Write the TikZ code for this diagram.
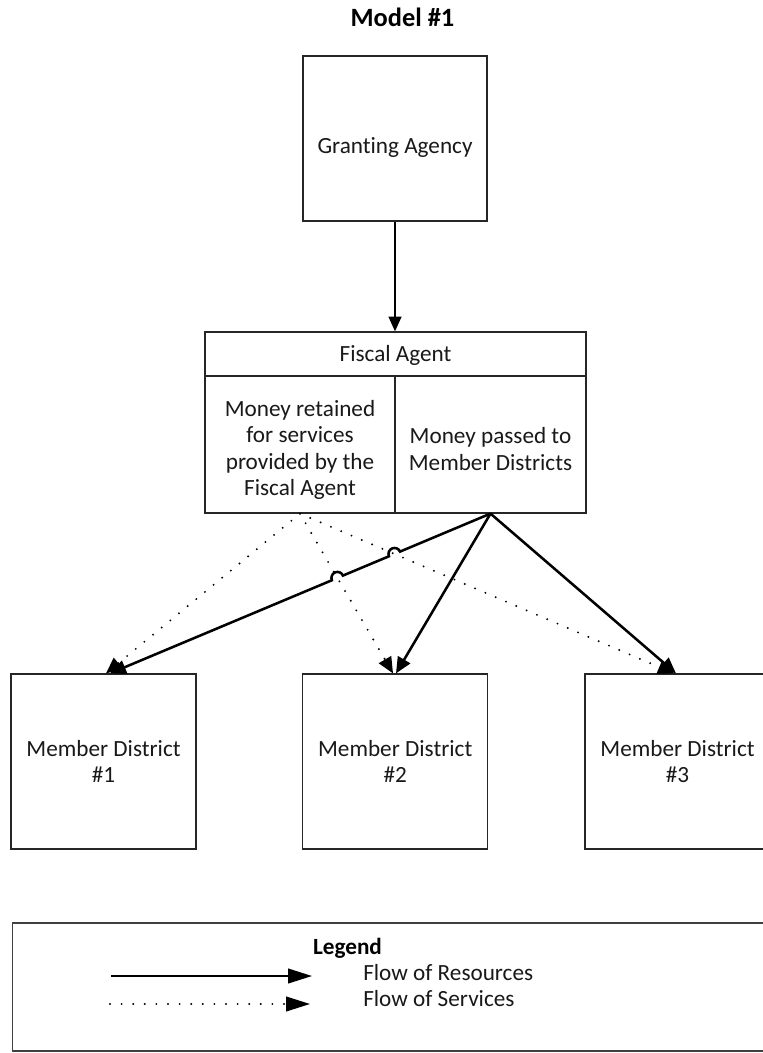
\documentclass[tikz,border=0pt]{standalone}
\usepackage{fontspec}
\setmainfont[Ligatures=NoCommon]{Carlito}
\usetikzlibrary{arrows.meta,calc}
\newcommand\bodyfnt{\fontsize{17.4}{19.7}\selectfont}
\newcommand\titlefnt{\fontsize{19.8}{22}\selectfont\bfseries}
\begin{document}
\begin{tikzpicture}[x=0.75pt,y=-0.75pt,
  box/.style={draw=black!85,line width=0.9pt,minimum width=138.75pt,minimum height=131.25pt,inner sep=0pt,align=center,font=\bodyfnt,text=black!90},
  frame/.style={draw=black!85,line width=0.9pt,inner sep=0pt},
  txt/.style={inner sep=0pt,align=center,font=\bodyfnt,text=black!90},
  res/.style={line width=1.9pt,-{Triangle[length=12pt,width=10.5pt]}},
  srv/.style={line width=1.6pt,line cap=round,dash pattern=on 0pt off 8.4pt,-{Triangle[length=12pt,width=10.5pt,line cap=butt]}},
]
\useasboundingbox (0,0) rectangle (763,1053);
\clip (0,0) rectangle (763,1053);
\fill[white] (0,0) rectangle (763,1053);

% title
\node[inner sep=0pt,font=\titlefnt,anchor=base] (title) at (402.5,26.7) {Model \#1};

% granting agency
\node[box,minimum width=138pt,minimum height=123.75pt] (ga) at (395,138.5) {};
\node[txt,anchor=base] (gat) at (395,153) {Granting Agency};

% fiscal agent
\node[frame,minimum width=285.75pt,minimum height=135.75pt] (fa) at (395.5,422.5) {};
\coordinate (hl) at ($(fa.north west)+(0,44.5)$);
\coordinate (hr) at ($(fa.north east)+(0,44.5)$);
\coordinate (dv) at ($(fa.south)+(-0.5,0)$);
\draw[draw=black!85,line width=0.9pt] (hl) -- (hr);
\draw[draw=black!85,line width=0.9pt] (dv) -- (dv |- hl);
\node[txt,anchor=base] (fah) at (395.5,361.7) {Fiscal Agent};
\node[txt] (fal) at (300,450) {Money retained\\for services\\provided by the\\Fiscal Agent};
\node[txt] (far) at (490.5,449) {Money passed to\\Member Districts};

% member districts
\node[box] (md1) at (103.5,761.5) {Member District\\\#1};
\node[box] (md2) at (395.2,761.5) {Member District\\\#2};
\node[box,minimum width=150pt] (md3) at (685,761.5) {};
\node[txt] (md3t) at (677.5,761.5) {Member District\\\#3};

% connector end points
\coordinate (srcS) at ($(fa.south)+(-95.5,0)$);
\coordinate (srcR) at ($(fa.south)+(95,0)$);
\coordinate (r1) at ($(md1.north)+(6.5,0)$);
\coordinate (s1) at ($(md1.north)+(2.5,0)$);
\coordinate (r2) at ($(md2.north)+(0.8,0)$);
\coordinate (s2) at ($(md2.north)+(-2.2,0)$);
\coordinate (r3) at ($(md3t |- md3.north)+(-1.5,0)$);
\coordinate (s3) at ($(md3t |- md3.north)+(-3.5,0)$);

% granting -> fiscal
\draw[line width=1.5pt,-{Triangle[length=11pt,width=9.5pt]}] (ga.south) -- (ga.south |- fa.north);

% services (dotted)
\draw[srv] (srcS) -- (s1);
\draw[srv] (srcS) -- (s2);
\draw[srv] (srcS) -- (s3);

% resources (solid)
\draw[res] (srcR) -- ($(srcR)!0.2378!(r1)$)
  arc[start angle=22.93,end angle=202.93,radius=4.5pt]
  -- ($(srcR)!0.3878!(r1)$)
  arc[start angle=22.93,end angle=202.93,radius=4.5pt]
  -- (r1);
\draw[res] (srcR) -- (r2);
\draw[res] (srcR) -- (r3);

% legend
\node[draw=black!75,line width=0.9pt,minimum width=590pt,minimum height=96pt,inner sep=0pt] (leg) at (406,987) {};
\node[inner sep=0pt,font=\bodyfnt\bfseries,anchor=base] (legt) at (347.5,954) {Legend};
\node[txt,anchor=base west] (lr) at (363,980.7) {Flow of Resources};
\node[txt,anchor=base west] (ls) at (363,1006.7) {Flow of Services};
\coordinate (la1) at (111,976);
\coordinate (lb1) at (312,976);
\coordinate (la2) at (110,1004);
\coordinate (lb2) at (310,1004);
\draw[line width=1.6pt,-{Triangle[length=18pt,width=11pt]}] (la1) -- (lb1);
\draw[line width=1.6pt,line cap=round,dash pattern=on 0pt off 8.7pt,-{Triangle[length=18pt,width=11pt,line cap=butt]}] (la2) -- (lb2);
\end{tikzpicture}
\end{document}
